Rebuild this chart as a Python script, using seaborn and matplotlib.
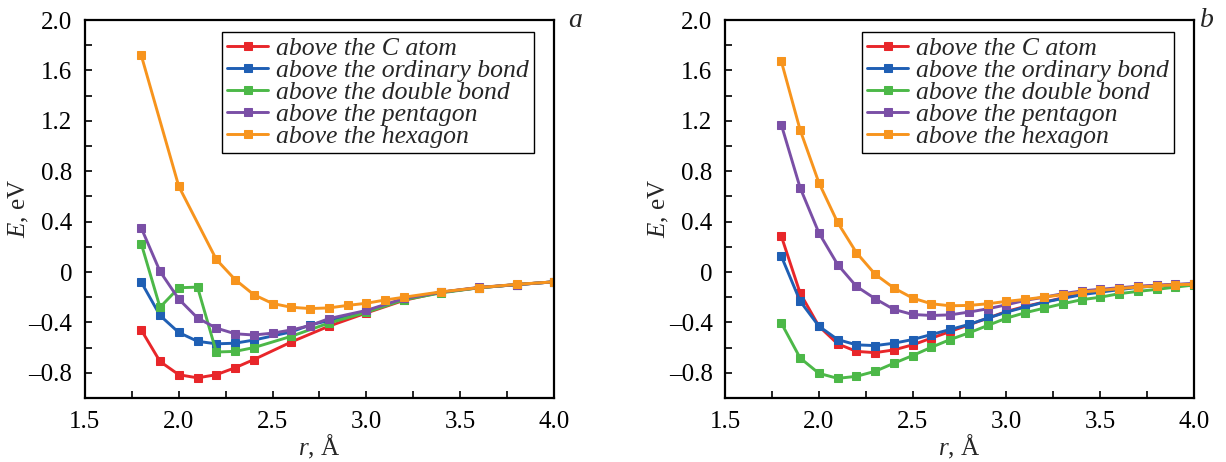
import matplotlib
matplotlib.use("Agg")
import matplotlib.pyplot as plt
from matplotlib.ticker import MultipleLocator
import seaborn as sns
import pandas as pd

# ---------------- data ----------------
series_names = ["above the C atom", "above the ordinary bond", "above the double bond",
                "above the pentagon", "above the hexagon"]
series_colors = ["#e8262a", "#1f5fb4", "#4cb848", "#7a4fa6", "#f7941d"]

# panel a
a_x_c = [1.8, 1.9, 2.0, 2.1, 2.2, 2.3, 2.4, 2.6, 2.8, 3.0, 3.2, 3.4, 3.6, 3.8, 4.0]
a_e_c = [-0.46, -0.71, -0.815, -0.84, -0.815, -0.76, -0.695, -0.555, -0.43, -0.325, -0.225, -0.16, -0.125, -0.1, -0.078]
a_x_ord = [1.8, 1.9, 2.0, 2.1, 2.2, 2.3, 2.4, 2.6, 2.7, 2.8, 3.0, 3.2, 3.4, 3.6, 3.8, 4.0]
a_e_ord = [-0.08, -0.345, -0.48, -0.55, -0.57, -0.565, -0.54, -0.475, -0.42, -0.385, -0.31, -0.215, -0.16, -0.125, -0.1, -0.078]
a_x_dbl = [1.8, 1.9, 2.0, 2.1, 2.2, 2.3, 2.4, 2.6, 2.8, 3.0, 3.2, 3.4, 3.6, 3.8, 4.0]
a_e_dbl = [0.225, -0.28, -0.125, -0.12, -0.635, -0.63, -0.6, -0.51, -0.405, -0.32, -0.22, -0.165, -0.125, -0.1, -0.078]
a_x_pent = [1.8, 1.9, 2.0, 2.1, 2.2, 2.3, 2.4, 2.5, 2.6, 2.7, 2.8, 3.0, 3.2, 3.4, 3.6, 3.8, 4.0]
a_e_pent = [0.35, 0.005, -0.215, -0.365, -0.445, -0.49, -0.5, -0.485, -0.46, -0.425, -0.37, -0.305, -0.21, -0.16, -0.122, -0.1, -0.078]
a_x_hex = [1.8, 2.0, 2.2, 2.3, 2.4, 2.5, 2.6, 2.7, 2.8, 2.9, 3.0, 3.1, 3.2, 3.4, 3.6, 3.8, 4.0]
a_e_hex = [1.72, 0.68, 0.1, -0.06, -0.18, -0.25, -0.28, -0.29, -0.285, -0.265, -0.248, -0.222, -0.2, -0.157, -0.124, -0.098, -0.078]

# panel b
b_x = [1.8, 1.9, 2.0, 2.1, 2.2, 2.3, 2.4, 2.5, 2.6, 2.7, 2.8, 2.9, 3.0, 3.1, 3.2, 3.3,
       3.4, 3.5, 3.6, 3.7, 3.8, 3.9, 4.0]
b_e_c = [0.284, -0.167, -0.43, -0.57, -0.63, -0.64, -0.618, -0.578, -0.525, -0.472, -0.419, -0.366,
         -0.313, -0.273, -0.239, -0.205, -0.175, -0.152, -0.132, -0.117, -0.106, -0.1, -0.095]
b_e_ord = [0.125, -0.231, -0.43, -0.536, -0.578, -0.584, -0.565, -0.536, -0.496, -0.456, -0.416, -0.366,
           -0.318, -0.278, -0.24, -0.21, -0.18, -0.16, -0.14, -0.122, -0.11, -0.1, -0.095]
b_e_dbl = [-0.406, -0.682, -0.804, -0.844, -0.828, -0.788, -0.724, -0.663, -0.597, -0.536, -0.483, -0.424,
           -0.366, -0.323, -0.287, -0.252, -0.22, -0.2, -0.172, -0.154, -0.138, -0.12, -0.103]
b_e_pent = [1.168, 0.669, 0.311, 0.059, -0.114, -0.212, -0.297, -0.337, -0.345, -0.34, -0.318, -0.292,
            -0.26, -0.225, -0.2, -0.172, -0.15, -0.137, -0.125, -0.113, -0.105, -0.098, -0.092]
b_e_hex = [1.672, 1.128, 0.709, 0.393, 0.154, -0.018, -0.127, -0.207, -0.252, -0.268, -0.265, -0.252,
           -0.233, -0.217, -0.199, -0.18, -0.159, -0.146, -0.132, -0.119, -0.111, -0.1, -0.098]

xtick_vals = [1.5, 2.0, 2.5, 3.0, 3.5, 4.0]
xtick_labels = ["1.5", "2.0", "2.5", "3.0", "3.5", "4.0"]
ytick_vals = [2.0, 1.6, 1.2, 0.8, 0.4, 0.0, -0.4, -0.8]
ytick_labels = ["2.0", "1.6", "1.2", "0.8", "0.4", "0", "\u20130.4", "\u20130.8"]
panel_tags = ["a", "b"]

panel_a = [(a_x_c, a_e_c), (a_x_ord, a_e_ord), (a_x_dbl, a_e_dbl), (a_x_pent, a_e_pent), (a_x_hex, a_e_hex)]
panel_b = [(b_x, b_e_c), (b_x, b_e_ord), (b_x, b_e_dbl), (b_x, b_e_pent), (b_x, b_e_hex)]

# ---------------- style ----------------
sns.set_style("ticks")
plt.rcParams["font.family"] = ["Liberation Serif", "DejaVu Serif"]
plt.rcParams["mathtext.fontset"] = "custom"
plt.rcParams["mathtext.rm"] = "Liberation Serif"
plt.rcParams["mathtext.it"] = "Liberation Serif:italic"

fig = plt.figure(figsize=(12.26, 4.62), dpi=100)
ax_a = fig.add_axes([0.0693, 0.1385, 0.3826, 0.8182])
ax_b = fig.add_axes([0.5914, 0.1385, 0.3826, 0.8182])

for ax, panel, tag, tagx in [(ax_a, panel_a, panel_tags[0], 1.045), (ax_b, panel_b, panel_tags[1], 1.028)]:
    for (xs, ys), name, col in zip(panel, series_names, series_colors):
        df = pd.DataFrame({"r": xs, "E": ys})
        sns.lineplot(data=df, x="r", y="E", ax=ax, color=col, marker="s", markersize=5.8,
                     markeredgecolor=col, linewidth=2.1, label=name, sort=False)
    ax.set_xlim(1.5, 4.0)
    ax.set_ylim(-1.0, 2.0)
    ax.set_xticks(xtick_vals)
    ax.set_xticklabels(xtick_labels)
    ax.set_yticks(ytick_vals)
    ax.set_yticklabels(ytick_labels)
    ax.xaxis.set_minor_locator(MultipleLocator(0.25))
    ax.yaxis.set_minor_locator(MultipleLocator(0.2))
    ax.tick_params(which="both", direction="in", length=5, width=1.2, labelsize=18,
                   top=False, right=False, colors="black")
    ax.tick_params(axis="x", pad=9)
    ax.tick_params(axis="y", pad=9)
    for s in ax.spines.values():
        s.set_visible(True)
        s.set_linewidth(1.6)
        s.set_color("black")
    ax.set_xlabel("$r$, \u00c5", fontsize=18, labelpad=0)
    ax.set_ylabel(r"$E$, eV", fontsize=18, labelpad=-2)
    ax.text(tagx, 1.0, tag, transform=ax.transAxes, fontsize=20, style="italic",
            ha="center", va="center")
    leg = ax.legend(loc="upper right", bbox_to_anchor=(0.957, 0.968), frameon=True,
                    fancybox=False, edgecolor="black", framealpha=1,
                    prop={"family": "Liberation Serif", "style": "italic", "size": 18.5},
                    labelspacing=-0.04, handlelength=1.6, handletextpad=0.3,
                    borderpad=0.2, borderaxespad=0)
    leg.get_frame().set_linewidth(1.0)
    ax.grid(False)

fig.savefig("out.png", dpi=100)
